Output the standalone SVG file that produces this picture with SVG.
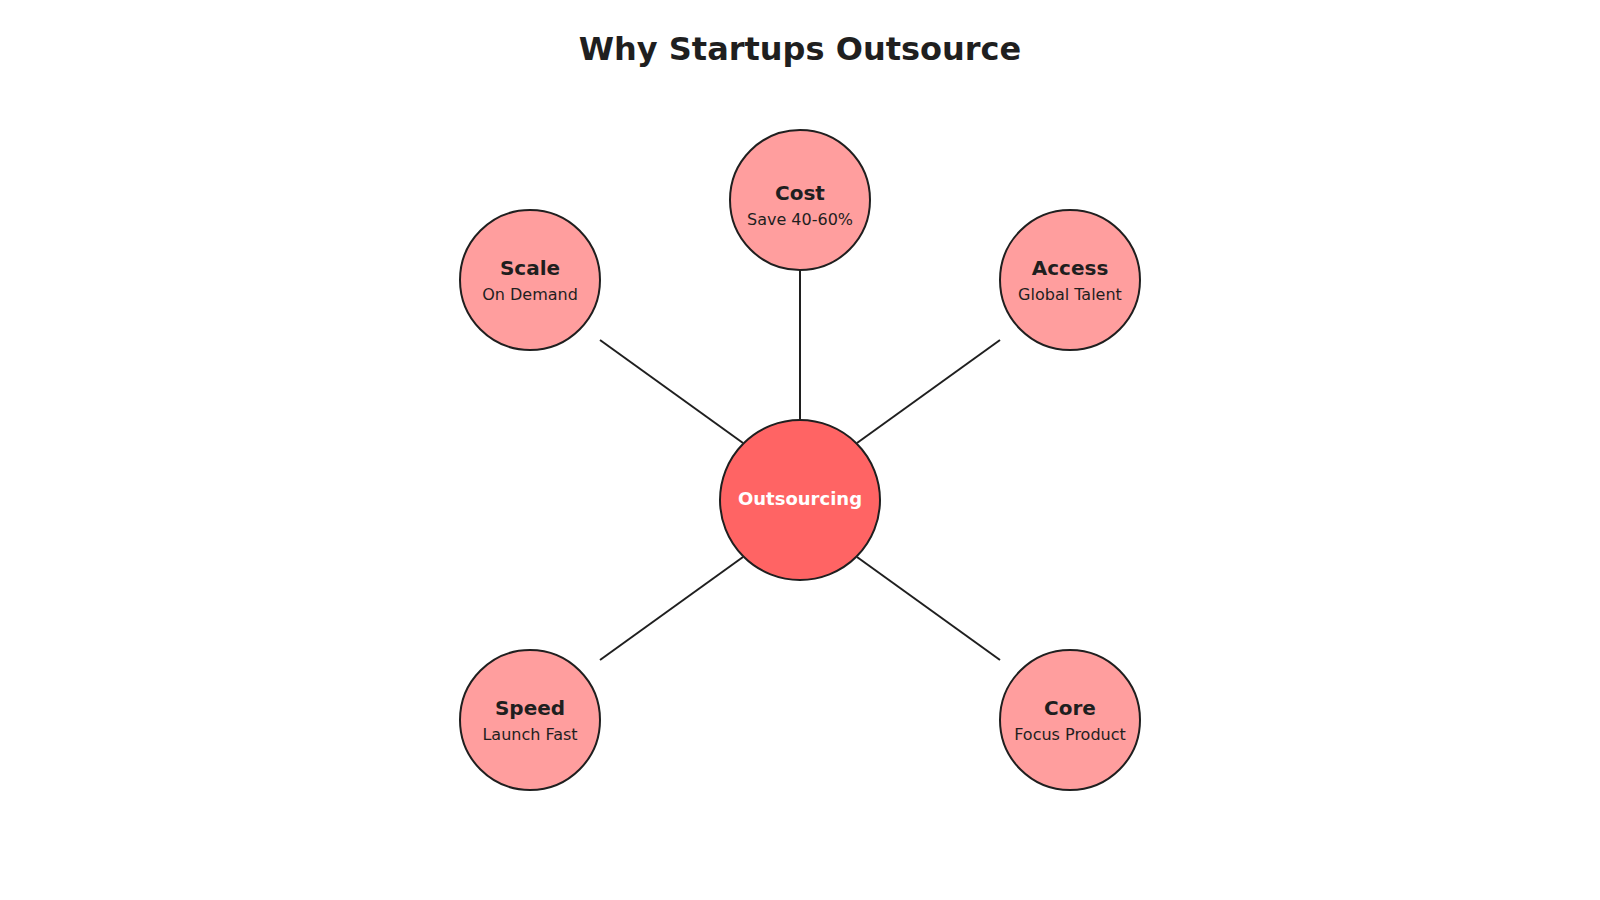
<svg xmlns="http://www.w3.org/2000/svg" width="1600" height="900" viewBox="0 0 1600 900">
<style>
.bg{fill:#ffffff}
.title{font-family:"DejaVu Sans","Liberation Sans",sans-serif;font-size:32px;font-weight:bold;fill:#1f1f1f;text-anchor:middle}
.outer{fill:#ff9e9e;stroke:#1f1f1f;stroke-width:2}
.hub{fill:#ff6464;stroke:#1f1f1f;stroke-width:2}
.lbl{font-family:"DejaVu Sans","Liberation Sans",sans-serif;font-size:20px;font-weight:bold;fill:#1f1f1f;text-anchor:middle}
.sub{font-family:"DejaVu Sans","Liberation Sans",sans-serif;font-size:16px;fill:#1f1f1f;text-anchor:middle}
.hubtxt{font-family:"DejaVu Sans","Liberation Sans",sans-serif;font-size:18px;font-weight:bold;fill:#ffffff;text-anchor:middle}
.conn{stroke:#1f1f1f;stroke-width:2;fill:none}
</style>
<rect class="bg" x="0" y="0" width="1600" height="900"/>
<text class="title" x="800" y="60">Why Startups Outsource</text>
<g id="connectors">
<line class="conn" x1="800" y1="270" x2="800" y2="420"/>
<line class="conn" x1="600" y1="340" x2="743" y2="443"/>
<line class="conn" x1="1000" y1="340" x2="857" y2="443"/>
<line class="conn" x1="600" y1="660" x2="743" y2="557"/>
<line class="conn" x1="1000" y1="660" x2="857" y2="557"/>
</g>
<g id="node-outsourcing">
<circle class="hub" cx="800" cy="500" r="80"/>
<text class="hubtxt" x="800" y="505">Outsourcing</text>
</g>
<g id="node-cost">
<circle class="outer" cx="800" cy="200" r="70"/>
<text class="lbl" x="800" y="200">Cost</text>
<text class="sub" x="800" y="225">Save 40-60%</text>
</g>
<g id="node-scale">
<circle class="outer" cx="530" cy="280" r="70"/>
<text class="lbl" x="530" y="275">Scale</text>
<text class="sub" x="530" y="300">On Demand</text>
</g>
<g id="node-access">
<circle class="outer" cx="1070" cy="280" r="70"/>
<text class="lbl" x="1070" y="275">Access</text>
<text class="sub" x="1070" y="300">Global Talent</text>
</g>
<g id="node-speed">
<circle class="outer" cx="530" cy="720" r="70"/>
<text class="lbl" x="530" y="715">Speed</text>
<text class="sub" x="530" y="740">Launch Fast</text>
</g>
<g id="node-core">
<circle class="outer" cx="1070" cy="720" r="70"/>
<text class="lbl" x="1070" y="715">Core</text>
<text class="sub" x="1070" y="740">Focus Product</text>
</g>
</svg>
